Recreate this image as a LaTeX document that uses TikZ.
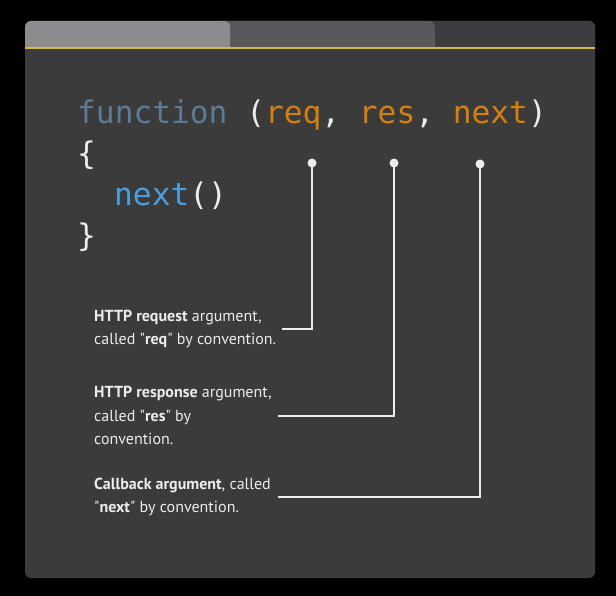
\documentclass[tikz,border=0pt]{standalone}
\usepackage{fontspec}
\setmainfont{PT Sans}
\newfontfamily\codefont{DejaVu Sans Mono}
\definecolor{panelgray}{RGB}{59,59,59}
\definecolor{tabone}{RGB}{140,140,142}
\definecolor{tabtwo}{RGB}{89,89,91}
\definecolor{tabthree}{RGB}{61,61,63}
\definecolor{tabline}{RGB}{214,184,74}
\definecolor{codeslate}{RGB}{93,122,150}
\definecolor{codeorange}{RGB}{212,128,14}
\definecolor{codeblue}{RGB}{74,158,224}
\definecolor{codewhite}{RGB}{236,236,236}
\usetikzlibrary{positioning,calc}

\begin{document}
\begin{tikzpicture}[x=1pt,y=-1pt,
    every node/.style={font=\fontsize{16}{23.5}\selectfont,text=codewhite},
    code/.style={font=\codefont\fontsize{31.2}{41}\selectfont,anchor=base west,inner sep=0pt},
    note/.style={anchor=west,align=left,inner sep=0pt},
    pin/.style={circle,fill=codewhite,inner sep=0pt,minimum size=9pt},
    wire/.style={draw=codewhite,line width=2pt}]
      \fill[black] (0,0) rectangle (616,596);
      \useasboundingbox (0,0) rectangle (616,596);
      \fill[panelgray,rounded corners=6pt] (25,21) rectangle (595,578);
      \fill[tabthree,rounded corners=6pt] (420,21) rectangle (595,56);
      \fill[tabtwo,rounded corners=6pt] (215,21) rectangle (435,56);
      \fill[tabone,rounded corners=6pt] (25,21) rectangle (230,56);
      \fill[panelgray] (25,48) rectangle (595,64);
      \draw[tabline,line width=1.6pt] (25,48) -- (595,48);

      \node[code] (sig) at (77,124) {\textcolor{codeslate}{function} (\textcolor{codeorange}{req}, \textcolor{codeorange}{res}, \textcolor{codeorange}{next})};
      \node[code] (open) at (77,165) {\{};
      \node[code] (call) at (114,206) {\textcolor{codeblue}{next}()};
      \node[code] (close) at (77,247) {\}};

      \node[pin] (reqpin) at (312,163) {};
      \node[pin] (respin) at (394,163) {};
      \node[pin] (nextpin) at (480,164) {};

      \node[note] (reqnote) at (94,329) {\textbf{HTTP request} argument,\\called \textquotedbl\textbf{req}\textquotedbl{} by convention.};
      \node[note] (resnote) at (94,415.5) {\textbf{HTTP response} argument,\\called \textquotedbl\textbf{res}\textquotedbl{} by\\convention.};
      \node[note] (nextnote) at (94,497) {\textbf{Callback argument}, called\\\textquotedbl\textbf{next}\textquotedbl{} by convention.};

      \draw[wire] (reqpin.center) |- ($(reqnote.west)+(188,0)$);
      \draw[wire] (respin.center) |- ($(resnote.west)+(184,0)$);
      \draw[wire] (nextpin.center) |- ($(nextnote.west)+(184,0)$);
    \end{tikzpicture}
\end{document}
